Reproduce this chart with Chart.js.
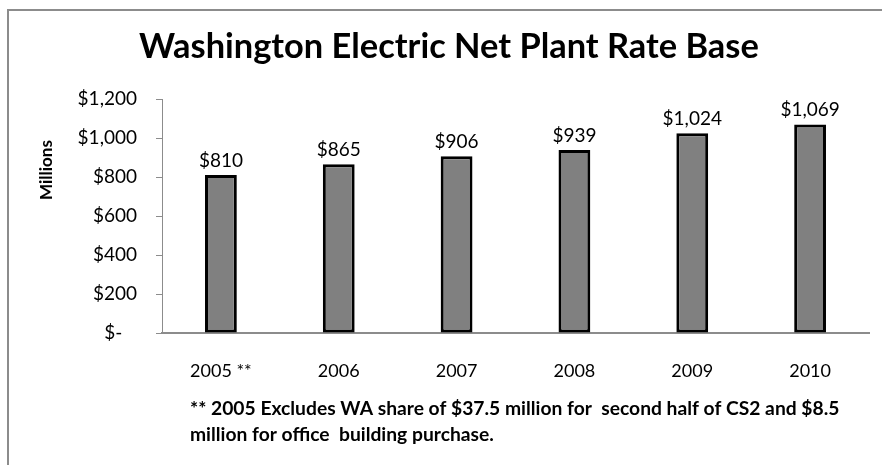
<!DOCTYPE html>
<html>
<head>
<meta charset="utf-8">
<script src="https://cdn.jsdelivr.net/npm/chart.js@4"></script>
<style>
  html, body { margin: 0; padding: 0; background: #fff; }
  #wrap { width: 882px; height: 465px; position: relative; }
</style>
</head>
<body>
<div id="wrap"><canvas id="rateBaseChart" width="882" height="465"></canvas></div>
<script>
// data
const years = ['2005 **', '2006', '2007', '2008', '2009', '2010'];
const rateBase = [810, 865, 906, 939, 1024, 1069];
const yTicks = [0, 200, 400, 600, 800, 1000, 1200];

const chartTitle = 'Washington Electric Net Plant Rate Base';
const axisTitle = 'Millions';
const footnote = [
    '** 2005 Excludes WA share of $37.5 million for  second half of CS2 and $8.5',
    'million for office  building purchase.'
];

const FONT = 'Lato, "Open Sans", sans-serif';

function money(v) {
    if (v === 0) return '$-   ';
    return '$' + v.toLocaleString('en-US');
}

// pick a font size so text fills a given width
function fitSize(ctx, text, weight, width) {
    ctx.font = weight + ' 100px ' + FONT;
    return 100 * width / ctx.measureText(text).width;
}

const decorPlugin = {
    id: 'decor',
    beforeDraw(chart) {
        const ctx = chart.ctx;
        ctx.save();
        // frame (top and left edges of the original box)
        ctx.strokeStyle = '#8c8c8c';
        ctx.lineWidth = 2;
        ctx.beginPath();
        ctx.moveTo(8, 465);
        ctx.lineTo(8, 10);
        ctx.lineTo(882, 10);
        ctx.stroke();
        ctx.restore();
    },
    afterDraw(chart) {
        const ctx = chart.ctx;
        ctx.save();
        ctx.fillStyle = '#000';

        // title
        let size = fitSize(ctx, chartTitle, 'bold', 620);
        ctx.font = 'bold ' + size + 'px ' + FONT;
        ctx.textAlign = 'left';
        ctx.textBaseline = 'middle';
        ctx.fillText(chartTitle, 139, 47);

        // y axis title
        ctx.save();
        ctx.translate(47, 170);
        ctx.rotate(-Math.PI / 2);
        ctx.font = 'bold 17px ' + FONT;
        ctx.textAlign = 'center';
        ctx.fillText(axisTitle, 0, 0);
        ctx.restore();

        // value labels
        const meta = chart.getDatasetMeta(0);
        ctx.font = '19px ' + FONT;
        ctx.textAlign = 'center';
        ctx.textBaseline = 'bottom';
        meta.data.forEach((bar, i) => {
            ctx.fillText(money(rateBase[i]), bar.x, bar.y - 5);
        });

        // footnote
        size = fitSize(ctx, footnote[0], 'bold', 650);
        ctx.font = 'bold ' + size + 'px ' + FONT;
        ctx.textAlign = 'left';
        ctx.textBaseline = 'middle';
        ctx.fillText(footnote[0], 190, 409);
        ctx.fillText(footnote[1], 190, 435);
        ctx.restore();
    }
};

new Chart(document.getElementById('rateBaseChart'), {
    type: 'bar',
    data: {
        labels: years,
        datasets: [{
            data: rateBase,
            backgroundColor: '#808080',
            borderColor: '#000',
            borderWidth: 3,
            borderSkipped: false,
            categoryPercentage: 1,
            barPercentage: 0.27
        }]
    },
    options: {
        responsive: false,
        animation: false,
        layout: { padding: { top: 99, right: 13, left: 0, bottom: 0 } },
        plugins: {
            legend: { display: false },
            title: { display: false },
            tooltip: { enabled: false }
        },
        scales: {
            x: {
                grid: { display: false, drawTicks: false },
                border: { color: '#8c8c8c', width: 2 },
                ticks: { color: '#000', font: { family: FONT, size: 18 }, padding: 27 },
                afterFit(scale) { scale.height = 132; }
            },
            y: {
                min: 0,
                max: 1200,
                afterBuildTicks(scale) { scale.ticks = yTicks.map(v => ({ value: v })); },
                grid: { drawOnChartArea: false, tickLength: 6, color: '#8c8c8c' },
                border: { color: '#8c8c8c', width: 1 },
                ticks: {
                    color: '#000',
                    font: { family: FONT, size: 19 },
                    padding: 19,
                    callback: v => money(v)
                },
                afterFit(scale) { scale.width = 162; }
            }
        }
    },
    plugins: [decorPlugin]
});
</script>
</body>
</html>
